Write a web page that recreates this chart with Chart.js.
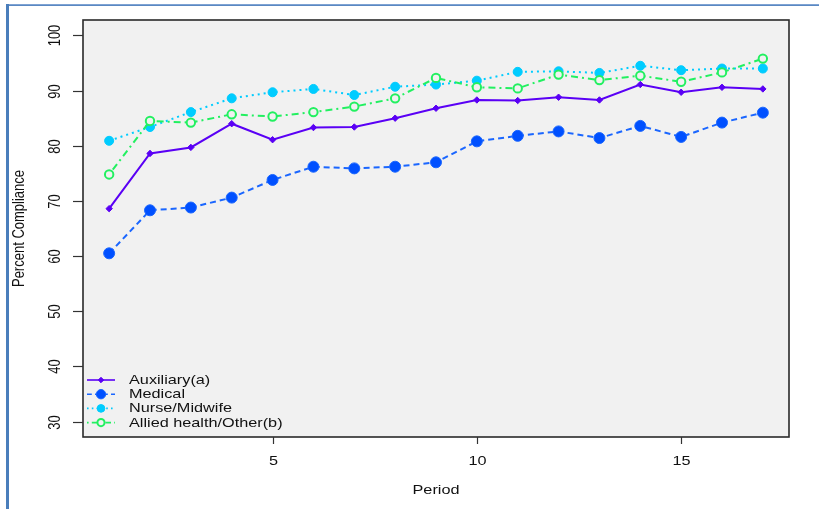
<!DOCTYPE html>
<html>
<head>
<meta charset="utf-8">
<script src="https://cdn.jsdelivr.net/npm/chart.js@4/dist/chart.umd.min.js"></script>
<style>
  html, body { margin: 0; padding: 0; background: #ffffff; }
  canvas { display: block; }
</style>
</head>
<body>
<canvas id="c" width="819" height="509"></canvas>
<script>
// Percent compliance by staff group over 17 periods
const periods = [1, 2, 3, 4, 5, 6, 7, 8, 9, 10, 11, 12, 13, 14, 15, 16, 17];
const auxiliary    = [68.6, 78.6, 79.7, 84.0, 81.1, 83.3, 83.4, 85.0, 86.8, 88.3, 88.2, 88.8, 88.3, 91.1, 89.7, 90.6, 90.3];
const medical      = [60.5, 68.3, 68.8, 70.6, 73.8, 76.2, 75.9, 76.2, 77.0, 80.8, 81.8, 82.6, 81.4, 83.6, 81.6, 84.2, 86.0];
const nurseMidwife = [80.9, 83.4, 86.1, 88.6, 89.7, 90.3, 89.2, 90.7, 91.1, 91.8, 93.4, 93.5, 93.2, 94.5, 93.7, 94.0, 94.0];
const alliedOther  = [74.8, 84.5, 84.2, 85.7, 85.3, 86.1, 87.1, 88.6, 92.3, 90.6, 90.4, 92.9, 91.9, 92.7, 91.6, 93.3, 95.8];

const seriesNames = ['Auxiliary(a)', 'Medical', 'Nurse/Midwife', 'Allied health/Other(b)'];
const yTicks = [30, 40, 50, 60, 70, 80, 90, 100];
const xTicks = [5, 10, 15];
const xTitle = 'Period';
const yTitle = 'Percent Compliance';

const FONT = '"Liberation Sans", Arial, sans-serif';
const STRETCH = 1.25;   // text is drawn slightly wide
const PLOT_BG = '#f1f1f1';

const pts = vals => periods.map((p, i) => ({ x: p, y: vals[i] }));

const datasets = [
  { label: seriesNames[0], data: pts(auxiliary), borderColor: '#5a00f5', backgroundColor: '#5a00f5',
    borderWidth: 2, borderDash: [], pointStyle: 'rectRot', pointRadius: 3.2, pointBorderWidth: 1, order: 3 },
  { label: seriesNames[1], data: pts(medical), borderColor: '#1a66ff', backgroundColor: '#0050ff',
    borderWidth: 2, borderDash: [6, 4], pointStyle: 'circle', pointRadius: 5.5, pointBorderWidth: 1, order: 2 },
  { label: seriesNames[2], data: pts(nurseMidwife), borderColor: '#00ccff', backgroundColor: '#00ccff',
    borderWidth: 2, borderDash: [2, 4], pointStyle: 'circle', pointRadius: 4.5, pointBorderWidth: 1, order: 1 },
  { label: seriesNames[3], data: pts(alliedOther), borderColor: '#22f060', backgroundColor: PLOT_BG,
    borderWidth: 2, borderDash: [2, 4, 7, 4], pointStyle: 'circle', pointRadius: 4.2, pointBorderWidth: 2, order: 0 }
];
datasets.forEach(d => {
  d.pointBackgroundColor = d.backgroundColor;
  d.pointBorderColor = d.borderColor;
  d.tension = 0;
  d.fill = false;
});

function stretchedText(ctx, text, x, y, align) {
  ctx.save();
  ctx.translate(x, y);
  ctx.scale(STRETCH, 1);
  ctx.textAlign = align;
  ctx.fillText(text, 0, 0);
  ctx.restore();
}

function rotatedText(ctx, text, x, y) {
  ctx.save();
  ctx.translate(x, y);
  ctx.rotate(-Math.PI / 2);
  ctx.scale(1, STRETCH);
  ctx.textAlign = 'center';
  ctx.fillText(text, 0, 0);
  ctx.restore();
}

const frame = {
  id: 'frame',
  beforeDraw(chart) {
    const { ctx, chartArea: a } = chart;
    ctx.save();
    ctx.fillStyle = '#ffffff';
    ctx.fillRect(0, 0, chart.width, chart.height);
    ctx.fillStyle = PLOT_BG;
    ctx.fillRect(a.left, a.top, a.right - a.left, a.bottom - a.top);
    ctx.restore();
  },
  afterDraw(chart) {
    const { ctx, chartArea: a } = chart;
    const xs = chart.scales.x, ys = chart.scales.y;
    ctx.save();

    // plot box
    ctx.strokeStyle = '#2a2a2a';
    ctx.lineWidth = 1.6;
    ctx.strokeRect(a.left, a.top, a.right - a.left, a.bottom - a.top);

    ctx.fillStyle = '#111111';
    ctx.strokeStyle = '#333333';
    ctx.lineWidth = 1.2;
    ctx.font = '13px ' + FONT;
    ctx.textBaseline = 'middle';

    // y axis ticks and rotated labels
    yTicks.forEach(v => {
      const y = Math.round(ys.getPixelForValue(v)) + 0.5;
      ctx.beginPath();
      ctx.moveTo(a.left - 10, y);
      ctx.lineTo(a.left, y);
      ctx.stroke();
      rotatedText(ctx, String(v), 56, y);
    });

    // x axis ticks and labels
    xTicks.forEach(v => {
      const x = Math.round(xs.getPixelForValue(v)) + 0.5;
      ctx.beginPath();
      ctx.moveTo(x, a.bottom);
      ctx.lineTo(x, a.bottom + 7);
      ctx.stroke();
      stretchedText(ctx, String(v), x, 461, 'center');
    });

    // axis titles
    stretchedText(ctx, xTitle, (a.left + a.right) / 2, 490, 'center');
    rotatedText(ctx, yTitle, 20, (a.top + a.bottom) / 2);

    // legend
    const rowY = [380, 394.2, 408.4, 422.6];
    chart.data.datasets.forEach((d, i) => {
      const y = rowY[i];
      const r = d.pointRadius * 0.85;
      ctx.save();
      ctx.strokeStyle = d.borderColor;
      ctx.lineWidth = 1.6;
      ctx.setLineDash(d.borderDash.map(n => n * 0.8));
      ctx.beginPath();
      ctx.moveTo(87, y);
      ctx.lineTo(115, y);
      ctx.stroke();
      ctx.setLineDash([]);
      ctx.fillStyle = d.pointBackgroundColor;
      ctx.strokeStyle = d.pointBorderColor;
      ctx.lineWidth = d.pointBorderWidth;
      ctx.beginPath();
      if (d.pointStyle === 'rectRot') {
        ctx.moveTo(101, y - r); ctx.lineTo(101 + r, y); ctx.lineTo(101, y + r); ctx.lineTo(101 - r, y);
        ctx.closePath();
      } else {
        ctx.arc(101, y, r, 0, Math.PI * 2);
      }
      ctx.fill();
      ctx.stroke();
      ctx.restore();
      ctx.fillStyle = '#111111';
      stretchedText(ctx, d.label, 129, y + 0.5, 'left');
    });

    // outer panel border
    ctx.fillStyle = '#7fa3d3';
    ctx.fillRect(6, 4, chart.width - 6, 1);
    ctx.fillStyle = '#5a88c2';
    ctx.fillRect(6, 5, chart.width - 6, 1);
    ctx.fillStyle = '#4a7ebb';
    ctx.fillRect(6, 4, 3, chart.height - 4);
    ctx.restore();
  }
};

new Chart(document.getElementById('c'), {
  type: 'line',
  data: { datasets },
  options: {
    responsive: false,
    animation: false,
    devicePixelRatio: 1,
    layout: { padding: { left: 83, top: 20, right: 30, bottom: 72 } },
    plugins: { legend: { display: false }, tooltip: { enabled: false } },
    scales: {
      x: { type: 'linear', min: 0.36, max: 17.64, display: false },
      y: { type: 'linear', min: 27.2, max: 102.8, display: false }
    }
  },
  plugins: [frame]
});
</script>
</body>
</html>
